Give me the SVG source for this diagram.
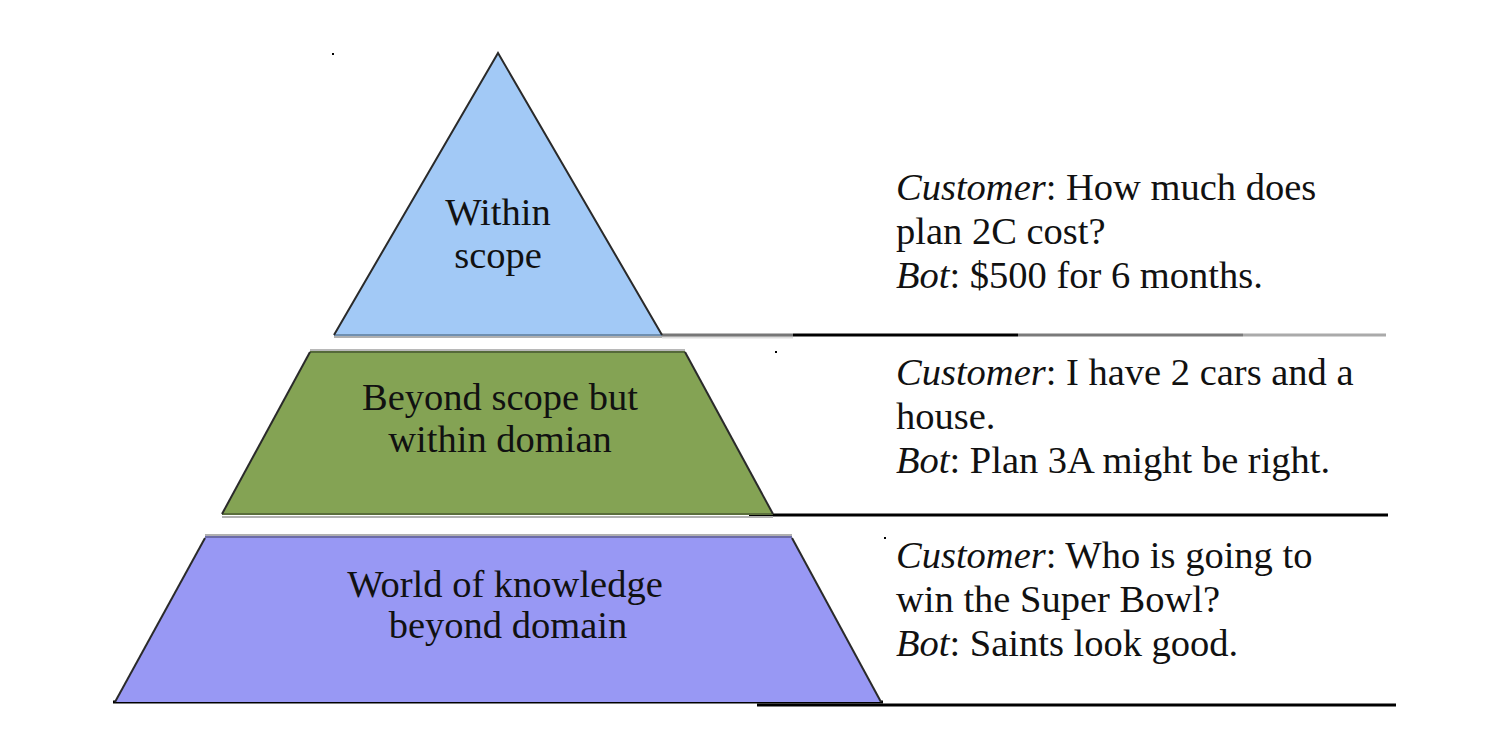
<svg xmlns="http://www.w3.org/2000/svg" width="1504" height="730" viewBox="0 0 1504 730">
<style>
text{font-size:38.5px;fill:#111}
.lbl{text-anchor:middle}
.edge{stroke:#2a2a2a;stroke-width:2;fill:none}
.it{font-style:italic}
</style>
<rect width="1504" height="730" fill="#fff"/>
<g id="connectors">
<line x1="662" y1="337" x2="793" y2="337" stroke="#dddddd" stroke-width="3"/>
<line x1="662" y1="335" x2="793" y2="335" stroke="#777" stroke-width="3"/>
<line x1="793" y1="335" x2="1018" y2="335" stroke="#000" stroke-width="3"/>
<line x1="1018" y1="335" x2="1243" y2="335" stroke="#7a7a7a" stroke-width="3"/>
<line x1="1243" y1="335" x2="1386" y2="335" stroke="#aaa" stroke-width="3"/>
<line x1="749" y1="515" x2="1388" y2="515" stroke="#000" stroke-width="3"/>
<line x1="113" y1="702" x2="883" y2="702" stroke="#000" stroke-width="3"/>
<line x1="757" y1="705" x2="1396" y2="705" stroke="#000" stroke-width="3"/>
<rect x="332" y="53" width="2" height="2" fill="#000"/>
<rect x="775" y="351" width="2" height="2" fill="#000"/>
<rect x="884" y="537" width="2" height="2" fill="#000"/>
</g>
<g font-family="Liberation Serif, DejaVu Serif, Times New Roman, serif">
<g id="node-within-scope">
<polygon points="498,53 334,335 662,335" fill="#a2c9f6"/>
<line x1="334" y1="337" x2="662" y2="337" stroke="#b0b0b0" stroke-width="2"/>
<line x1="334" y1="335" x2="662" y2="335" stroke="#6f8fb0" stroke-width="2"/>
<polyline class="edge" points="334,335 498,53 662,335"/>
<text class="lbl" x="498" y="225">Within</text>
<text class="lbl" x="498" y="268">scope</text>
</g>
<g id="node-beyond-scope">
<polygon points="310,352 685,352 773,514 222,514" fill="#84a354"/>
<line x1="310" y1="350" x2="685" y2="350" stroke="#b8b8b8" stroke-width="2"/>
<line x1="310" y1="352" x2="685" y2="352" stroke="#55693a" stroke-width="2"/>
<line x1="222" y1="517" x2="773" y2="517" stroke="#b0b0b0" stroke-width="2"/>
<line x1="222" y1="514" x2="773" y2="514" stroke="#5a6e3c" stroke-width="2"/>
<line class="edge" x1="310" y1="352" x2="222" y2="514"/>
<line class="edge" x1="685" y1="352" x2="773" y2="514"/>
<text class="lbl" x="500" y="410">Beyond scope but</text>
<text class="lbl" x="500" y="452">within domian</text>
</g>
<g id="node-world-knowledge">
<polygon points="205,538 792,538 881,702 115,702" fill="#9898f4"/>
<line x1="205" y1="537" x2="792" y2="537" stroke="#6b6ba8" stroke-width="2"/>
<line x1="205" y1="535" x2="792" y2="535" stroke="#b0b0b0" stroke-width="2"/>
<line class="edge" x1="205" y1="538" x2="115" y2="702"/>
<line class="edge" x1="792" y1="538" x2="881" y2="702"/>
<text class="lbl" x="505" y="597">World of knowledge</text>
<text class="lbl" x="508" y="638">beyond domain</text>
</g>
<g id="dialog-1">
<text x="896" y="200"><tspan class="it">Customer</tspan>: How much does</text>
<text x="896" y="244">plan 2C cost?</text>
<text x="896" y="288"><tspan class="it">Bot</tspan>: $500 for 6 months.</text>
</g>
<g id="dialog-2">
<text x="896" y="385"><tspan class="it">Customer</tspan>: I have 2 cars and a</text>
<text x="896" y="429">house.</text>
<text x="896" y="473"><tspan class="it">Bot</tspan>: Plan 3A might be right.</text>
</g>
<g id="dialog-3">
<text x="896" y="568"><tspan class="it">Customer</tspan>: Who is going to</text>
<text x="896" y="612">win the Super Bowl?</text>
<text x="896" y="656"><tspan class="it">Bot</tspan>: Saints look good.</text>
</g>
</g>
</svg>
